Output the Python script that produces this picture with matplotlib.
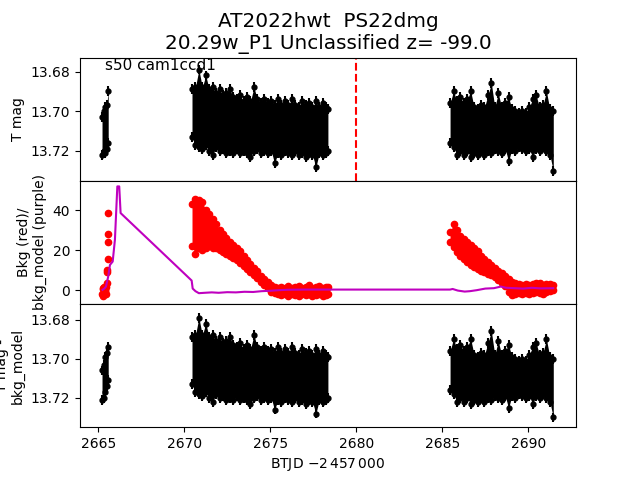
import numpy as np
import matplotlib.pyplot as plt

# light curve: for each time node the brightest / faintest point (T mag)
t0 = [2665.22, 2665.31, 2665.40, 2665.49, 2665.58]
mag0_hi = [13.703, 13.700, 13.698, 13.697, 13.690]
mag0_lo = [13.722, 13.720, 13.721, 13.719, 13.716]
# bottom panel, first chunk (after bkg_model subtraction)
sub0_hi = [13.706, 13.703, 13.699, 13.697, 13.694]
sub0_lo = [13.721, 13.720, 13.717, 13.714, 13.711]

tA = [2670.45, 2670.65, 2670.85, 2671.05, 2671.25, 2671.45, 2671.65, 2671.85, 2672.05, 2672.25,
      2672.45, 2672.65, 2672.85, 2673.05, 2673.25, 2673.45, 2673.65, 2673.85, 2674.05, 2674.25,
      2674.45, 2674.65, 2674.85, 2675.05, 2675.25, 2675.45, 2675.65, 2675.85, 2676.05, 2676.25,
      2676.45, 2676.65, 2676.85, 2677.05, 2677.25, 2677.45, 2677.65, 2677.85, 2678.05, 2678.25,
      2678.35]
magA_hi = [13.689, 13.688, 13.679, 13.688, 13.682, 13.689, 13.688, 13.691, 13.689, 13.692,
           13.691, 13.689, 13.693, 13.694, 13.692, 13.695, 13.693, 13.695, 13.688, 13.694,
           13.696, 13.694, 13.696, 13.695, 13.697, 13.694, 13.697, 13.695, 13.697, 13.694,
           13.697, 13.698, 13.695, 13.697, 13.696, 13.698, 13.695, 13.698, 13.696, 13.698,
           13.699]
magA_lo = [13.713, 13.717, 13.718, 13.719, 13.717, 13.720, 13.722, 13.718, 13.720, 13.719,
           13.721, 13.720, 13.721, 13.719, 13.721, 13.720, 13.721, 13.723, 13.720, 13.719,
           13.721, 13.720, 13.721, 13.720, 13.726, 13.721, 13.722, 13.720, 13.721, 13.722,
           13.720, 13.722, 13.721, 13.723, 13.721, 13.722, 13.728, 13.721, 13.722, 13.721,
           13.720]

tB = [2685.45, 2685.65, 2685.85, 2686.05, 2686.25, 2686.45, 2686.65, 2686.85, 2687.05, 2687.25,
      2687.45, 2687.65, 2687.85, 2688.05, 2688.25, 2688.45, 2688.65, 2688.85, 2689.05, 2689.25,
      2689.45, 2689.65, 2689.85, 2690.05, 2690.25, 2690.45, 2690.65, 2690.85, 2691.05, 2691.25,
      2691.45]
magB_hi = [13.696, 13.690, 13.695, 13.693, 13.696, 13.694, 13.690, 13.698, 13.699, 13.697,
           13.698, 13.692, 13.686, 13.698, 13.691, 13.698, 13.696, 13.693, 13.699, 13.700,
           13.701, 13.700, 13.701, 13.698, 13.694, 13.692, 13.698, 13.697, 13.690, 13.699,
           13.700]
magB_lo = [13.716, 13.718, 13.722, 13.720, 13.722, 13.720, 13.723, 13.721, 13.722, 13.720,
           13.722, 13.720, 13.721, 13.719, 13.720, 13.721, 13.719, 13.725, 13.719, 13.720,
           13.718, 13.719, 13.720, 13.719, 13.723, 13.719, 13.720, 13.718, 13.720, 13.722,
           13.730]

# background (red), same time nodes
bkg0_t = [2665.22, 2665.25, 2665.27, 2665.30, 2665.32, 2665.35, 2665.38, 2665.41, 2665.44,
          2665.47, 2665.50, 2665.52, 2665.53, 2665.55, 2665.57, 2665.58, 2665.59]
bkg0 = [-2.0, 1.0, -3.0, 0.5, -1.5, 1.5, -0.5, 0.0, -2.0, 1.5, 3.8, 9.0, 10.0, 15.6, 24.0, 28.0, 38.5]
bkgA_hi = [43, 45.5, 45, 44, 40, 38, 35.5, 33, 30, 28,
           26, 24, 22.5, 21, 19.5, 17, 15, 13, 11, 9.5,
           7, 5.5, 4, 2.5, 1.5, 1, 1.5, 1, 2, 1,
           1.5, 2, 1, 1.5, 2.5, 1, 1.5, 2, 1, 1.5,
           1.5]
bkgA_lo = [22, 18, 21, 20, 21, 22, 21, 21, 20, 19,
           18, 17, 16, 15, 13.5, 12, 10.5, 9, 7.5, 6,
           4, 2.5, 1, -1, -1.5, -2, -2.5, -2, -3, -2,
           -2.5, -3, -2, -2.5, -2, -3, -2.5, -2, -3, -2.5,
           -2]
bkgB_hi = [29, 33, 30, 27, 25.5, 24, 22.5, 21, 19.5, 17,
           15.5, 14, 12.5, 11, 9.5, 8.5, 7, 5.5, 4, 3.5,
           3, 2.5, 3, 2.5, 3, 3.5, 3.5, 2.5, 3, 3,
           2.5]
bkgB_lo = [24, 21.5, 19, 17, 15.5, 14, 12.5, 11.5, 10.5, 9.5,
           9, 8, 7.5, 6.5, 5, 3.5, 2, -1, -2.5, -2,
           -1.5, -2, -1.5, -2, -1.5, -1, -1.5, -2, -1, -0.5,
           0]

# bkg_model (purple)
model_t = [2665.25, 2665.35, 2665.45, 2665.58, 2665.68, 2665.84, 2665.97, 2666.11, 2666.22, 2666.30,
           2670.04, 2670.43, 2670.49, 2670.65, 2670.85, 2671.2, 2671.6, 2672.0, 2672.5, 2673.0,
           2673.5, 2674.0, 2674.5, 2675.0, 2675.5, 2676.0, 2677.0, 2678.35, 2685.45, 2685.6,
           2685.9, 2686.3, 2686.6, 2687.0, 2687.5, 2688.0, 2688.4, 2688.7, 2689.2, 2689.7,
           2690.2, 2690.7, 2691.45]
model = [0.2, 0.8, 1.8, 6.8, 12.6, 14.3, 25.2, 51.8, 51.8, 38.5,
         8.0, 4.8, 0.8, -0.5, -1.5, -1.3, -1.1, -1.3, -1.0, -1.1,
         -0.8, -0.9, -0.5, -0.3, 0.0, 0.2, 0.3, 0.3, 0.3, 0.6,
         -0.2, -0.7, -0.5, 0.0, 0.8, 1.0, 1.8, 1.2, 1.0, 0.8,
         1.2, 0.9, 1.0]

MAG_ERR = 0.0025


def dense_lc(ax, t, hi, lo):
    # the points are so dense they merge; fill between the outermost ones
    ax.fill_between(t, hi, lo, color='k', lw=0)
    ax.errorbar(t, hi, yerr=MAG_ERR, fmt='o', color='k', ms=3.5)
    ax.errorbar(t, lo, yerr=MAG_ERR, fmt='o', color='k', ms=3.5)


def dense_bkg(ax, t, hi, lo):
    ax.fill_between(t, hi, lo, color='r', lw=0)
    ax.plot(t, hi, 'o', color='r', ms=4.5)
    ax.plot(t, lo, 'o', color='r', ms=4.5)


fig, axs = plt.subplots(3, 1, sharex=True, figsize=(6.4, 4.8))
fig.subplots_adjust(hspace=0)

ax = axs[0]
dense_lc(ax, t0, mag0_hi, mag0_lo)
dense_lc(ax, tA, magA_hi, magA_lo)
dense_lc(ax, tB, magB_hi, magB_lo)
ax.axvline(2680, color='r', ls='--')
ax.set_ylim(13.735, 13.673)
ax.set_yticks([13.68, 13.70, 13.72])
ax.set_ylabel('T mag')
ax.text(0.05, 0.9, 's50 cam1ccd1', transform=ax.transAxes, fontsize=11)
ax.set_title('AT2022hwt  PS22dmg\n20.29w_P1 Unclassified z= -99.0', fontsize='x-large')

ax = axs[1]
ax.plot(bkg0_t, bkg0, 'o', color='r', ms=4.5)
dense_bkg(ax, tA, bkgA_hi, bkgA_lo)
dense_bkg(ax, tB, bkgB_hi, bkgB_lo)
ax.plot(model_t, model, color='m', lw=1.5)
ax.set_ylim(-6.9, 54.6)
ax.set_yticks([0, 20, 40])
ax.set_ylabel('Bkg (red)/\nbkg_model (purple)')

ax = axs[2]
dense_lc(ax, t0, sub0_hi, sub0_lo)
dense_lc(ax, tA, magA_hi, magA_lo)
dense_lc(ax, tB, magB_hi, magB_lo)
ax.set_ylim(13.735, 13.672)
ax.set_yticks([13.68, 13.70, 13.72])
ax.set_ylabel('T mag -\nbkg_model')
ax.set_xlim(2663.94, 2692.77)
ax.set_xlabel(r'BTJD $-2\,457\,000$')

plt.savefig('out.png', dpi=100)
